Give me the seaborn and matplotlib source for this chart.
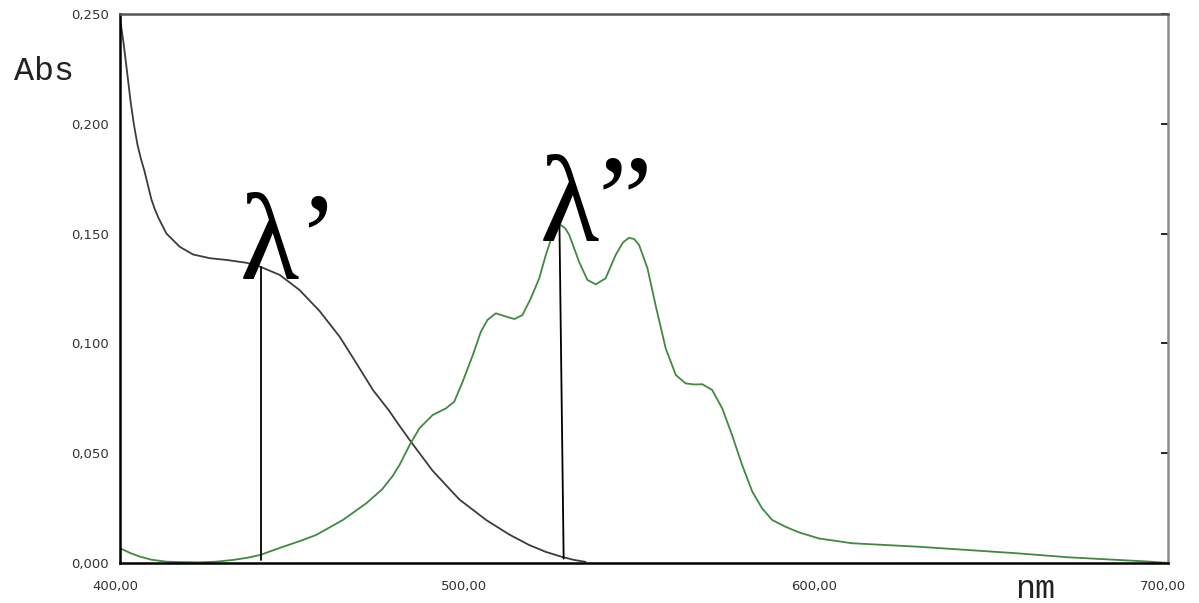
import numpy as np
import pandas as pd
import matplotlib
matplotlib.use("Agg")
import matplotlib.pyplot as plt
import matplotlib.transforms as mtransforms
import seaborn as sns

# Absorption spectrum (black) and emission-like band (green), wavelength in nm
black_nm = [400.0, 401.0, 402.0, 403.0, 404.0, 405.0, 406.0, 407.0, 408.0, 409.0,
            410.0, 411.0, 413.3, 417.1, 420.9, 425.7, 430.5, 436.2, 440.0, 445.7,
            451.4, 457.1, 462.9, 467.1, 472.4, 477.1, 480.0, 483.8, 489.5, 497.1,
            504.8, 511.4, 517.1, 522.0, 526.7, 530.0, 533.3]
black_abs = [0.248, 0.237, 0.224, 0.2105, 0.1995, 0.1905, 0.1840, 0.1785, 0.1720, 0.1655,
             0.1610, 0.1572, 0.1500, 0.1440, 0.1405, 0.1388, 0.1380, 0.1367, 0.1350, 0.1312,
             0.1243, 0.1148, 0.1030, 0.0924, 0.0788, 0.0692, 0.0625, 0.0541, 0.0420, 0.0290,
             0.0196, 0.0130, 0.0082, 0.0050, 0.0027, 0.0014, 0.0005]

green_nm = [400.0, 403.0, 405.7, 409.0, 413.3, 418.0, 422.9, 427.5, 432.4, 436.5,
            440.0, 446.7, 451.5, 456.2, 463.8, 470.5, 475.0, 478.0, 480.0, 482.9,
            485.7, 489.5, 493.3, 495.7, 498.1, 501.0, 503.3, 505.2, 507.6, 510.5,
            512.9, 515.2, 517.6, 520.0, 521.9, 523.8, 525.0, 526.2, 527.4, 528.6,
            531.4, 533.8, 536.2, 539.0, 541.9, 544.0, 545.7, 547.2, 548.6, 551.0,
            553.3, 556.2, 559.1, 561.9, 564.3, 566.7, 569.5, 572.4, 575.2, 578.1,
            581.0, 583.8, 586.7, 590.5, 594.3, 600.0, 609.5, 628.6, 642.9, 657.0,
            671.4, 685.7, 695.0, 700.0]
green_abs = [0.0067, 0.0045, 0.0029, 0.0015, 0.0006, 0.0004, 0.0003, 0.0006, 0.0014, 0.0024,
             0.0036, 0.0074, 0.0100, 0.0128, 0.0196, 0.0272, 0.0335, 0.0395, 0.0446, 0.0537,
             0.0613, 0.0674, 0.0704, 0.0735, 0.0826, 0.0947, 0.1053, 0.1107, 0.1137, 0.1122,
             0.1111, 0.1129, 0.1205, 0.1296, 0.1403, 0.1494, 0.1525, 0.1539, 0.1525, 0.1494,
             0.1372, 0.1289, 0.1269, 0.1296, 0.1403, 0.1460, 0.1481, 0.1475, 0.1448, 0.1342,
             0.1175, 0.0978, 0.0856, 0.0818, 0.0813, 0.0814, 0.0788, 0.0704, 0.0583, 0.0446,
             0.0325, 0.0249, 0.0196, 0.0165, 0.0140, 0.0112, 0.0090, 0.0074, 0.0059, 0.0044,
             0.0026, 0.0014, 0.0006, 0.0]

# Marked wavelengths: (x_top, y_top, x_bottom, y_bottom)
lambda1_line = (440.3, 0.1350, 440.3, 0.0014)
lambda2_line = (525.8, 0.1535, 527.0, 0.0020)
lambda_labels = ["\u03bb\u2019", "\u03bb\u201d"]

xticks = [400, 500, 600, 700]
xtick_labels = ["400,00", "500,00", "600,00", "700,00"]
yticks = [0.0, 0.05, 0.10, 0.15, 0.20, 0.25]
ytick_labels = ["0,000", "0,050", "0,100", "0,150", "0,200", "0,250"]

sns.set_style("white")
plt.rcParams["font.family"] = ["DejaVu Sans"]

black_df = pd.DataFrame({"nm": black_nm, "Abs": black_abs})
green_df = pd.DataFrame({"nm": green_nm, "Abs": green_abs})

fig = plt.figure(figsize=(11.99, 6.03), dpi=100)
ax = fig.add_axes([120 / 1199, 40 / 603, 1048 / 1199, 549 / 603])

sns.lineplot(data=black_df, x="nm", y="Abs", ax=ax, color="#3c3c3c", lw=1.3)
sns.lineplot(data=green_df, x="nm", y="Abs", ax=ax, color="#3f8a3f", lw=1.3)

for x0, y0, x1, y1 in (lambda1_line, lambda2_line):
    ax.plot([x0, x1], [y0, y1], color="black", lw=1.3)

lam_font = dict(family="Liberation Serif", fontsize=88, color="black")
ax.text(434.2, 0.1300, lambda_labels[0], ha="left", va="baseline", **lam_font)
ax.text(520.3, 0.1470, lambda_labels[1], ha="left", va="baseline", **lam_font)

ax.set_xlim(400, 700)
ax.set_ylim(0, 0.25)
ax.set_xticks(xticks)
ax.set_xticklabels(xtick_labels)
ax.set_yticks(yticks)
ax.set_yticklabels(ytick_labels)
ax.set_xlabel("")
ax.set_ylabel("")

ax.tick_params(axis="x", direction="in", length=6, width=1.2, pad=12,
               labelsize=9.5, labelcolor="#333333", color="black")
ax.tick_params(axis="y", direction="in", length=8, width=1.2, pad=8,
               labelsize=9.5, labelcolor="#333333", color="black")

# short inward ticks on the right-hand frame
right = ax.secondary_yaxis("right")
right.set_yticks(yticks)
right.tick_params(direction="in", length=5, width=1.2, labelright=False, color="black")
right.spines["right"].set_visible(False)

offset = mtransforms.ScaledTranslation(-5 / 100, 0, fig.dpi_scale_trans)
for lab in ax.get_xticklabels():
    lab.set_transform(lab.get_transform() + offset)

for side, col in (("left", "black"), ("bottom", "black"),
                  ("top", "#555555"), ("right", "#8a8a8a")):
    ax.spines[side].set_visible(True)
    ax.spines[side].set_color(col)
    ax.spines[side].set_linewidth(1.8)

mono = dict(family="Liberation Mono", fontsize=24, color="#222222")
fig.text(14 / 1199, 1 - 80 / 603, "Abs", ha="left", va="baseline", **mono)
fig.text(1015 / 1199, 1 - 598 / 603, "nm", ha="left", va="baseline", **mono)

fig.savefig("out.png", dpi=100, facecolor="white")
